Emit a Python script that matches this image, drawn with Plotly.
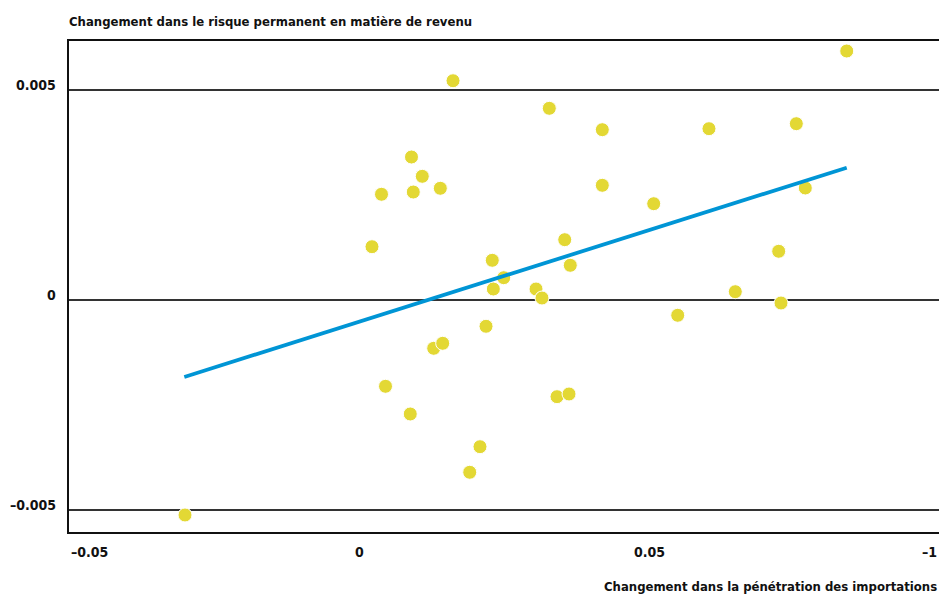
import plotly.graph_objects as go

# Scatter data: change in import penetration (x) vs change in permanent income risk (y)
x_vals = [-0.0300, 0.00224, 0.00388, 0.00457, 0.00905, 0.00936, 0.00884, 0.01091, 0.01402,
          0.01621, 0.01288, 0.01443, 0.01909, 0.02086, 0.0219, 0.02298, 0.02316, 0.02495,
          0.03052, 0.03155, 0.03281, 0.03414, 0.03547, 0.03621, 0.03643, 0.04195, 0.04195,
          0.05081, 0.05495, 0.06034, 0.06488, 0.07236, 0.07276, 0.0754, 0.07695, 0.08409]
y_vals = [-0.005119, 0.001269, 0.002517, -0.002055, 0.003405, 0.002571, -0.002714, 0.002945,
          0.00266, 0.005221, -0.00115, -0.001031, -0.004102, -0.003493, -0.000626, 0.000945,
          0.000262, 0.000531, 0.000262, 0.0000476, 0.004564, -0.002302, 0.001436, -0.002238,
          0.000826, 0.004055, 0.002731, 0.002293, -0.000364, 0.004079, 0.000198, 0.00116,
          -0.0000714, 0.004198, 0.002667, 0.005929]

# Fitted trend line (endpoints)
trend_x = [-0.03012, 0.08409]
trend_y = [-0.001833, 0.00315]

x_tick_vals = [-0.05, 0, 0.05, 0.1]
x_tick_text = ["–0.05", "0", "0.05", "–1"]
y_tick_vals = [-0.005, 0, 0.005]
y_tick_text = ["–0.005", "0", "0.005"]

y_title = "Changement dans le risque permanent en matière de revenu"
x_title = "Changement dans la pénétration des importations"

FONT = "Liberation Sans Narrow, DejaVu Sans Condensed, Arial Narrow, sans-serif"
TXT = "#111111"

fig = go.Figure()
fig.add_trace(go.Scatter(
    x=x_vals, y=y_vals, mode="markers",
    marker=dict(size=14, color="#E3D834", line=dict(width=1, color="#ffffff")),
    hoverinfo="x+y", showlegend=False))
fig.add_trace(go.Scatter(
    x=trend_x, y=trend_y, mode="lines",
    line=dict(color="#0095D5", width=3.8), showlegend=False, hoverinfo="skip"))

annotations = []
for i, (v, t) in enumerate(zip(x_tick_vals, x_tick_text)):
    anchor = "left" if i == 0 else ("right" if i == len(x_tick_vals) - 1 else "center")
    annotations.append(dict(x=v, y=0, xref="x", yref="paper", text=t, showarrow=False,
                            xanchor=anchor, yanchor="middle", yshift=-20,
                            font=dict(family=FONT, size=14, color=TXT, weight="bold")))
for v, t in zip(y_tick_vals, y_tick_text):
    annotations.append(dict(x=0, y=v, xref="paper", yref="y", text=t, showarrow=False,
                            xanchor="right", yanchor="middle", xshift=-11, yshift=5,
                            font=dict(family=FONT, size=14, color=TXT, weight="bold")))
annotations.append(dict(x=0, y=1, xref="paper", yref="paper", text=y_title, showarrow=False,
                        xanchor="left", yanchor="middle", xshift=-2, yshift=20,
                        font=dict(family=FONT, size=13, color=TXT, weight="bold")))
annotations.append(dict(x=1, y=0, xref="paper", yref="paper", text=x_title, showarrow=False,
                        xanchor="right", yanchor="middle", yshift=-54,
                        font=dict(family=FONT, size=13, color=TXT, weight="bold")))

fig.update_layout(
    width=940, height=594,
    margin=dict(l=69, r=1, t=41, b=62),
    paper_bgcolor="white", plot_bgcolor="white",
    annotations=annotations,
    xaxis=dict(range=[-0.05, 0.1], showgrid=False, zeroline=False, showticklabels=False,
               ticks="", showline=True, mirror=True, linecolor="#111111", linewidth=1.5),
    yaxis=dict(range=[-0.005524, 0.006167], tickvals=y_tick_vals, showticklabels=False,
               showgrid=True, gridcolor="#333333", gridwidth=1.5, zeroline=False,
               ticks="", showline=True, mirror=False, linecolor="#111111", linewidth=1.5),
)

fig.write_html("out.html", config={"displayModeBar": False},
               post_script="document.body.style.margin='0';document.body.style.overflow='hidden';")
